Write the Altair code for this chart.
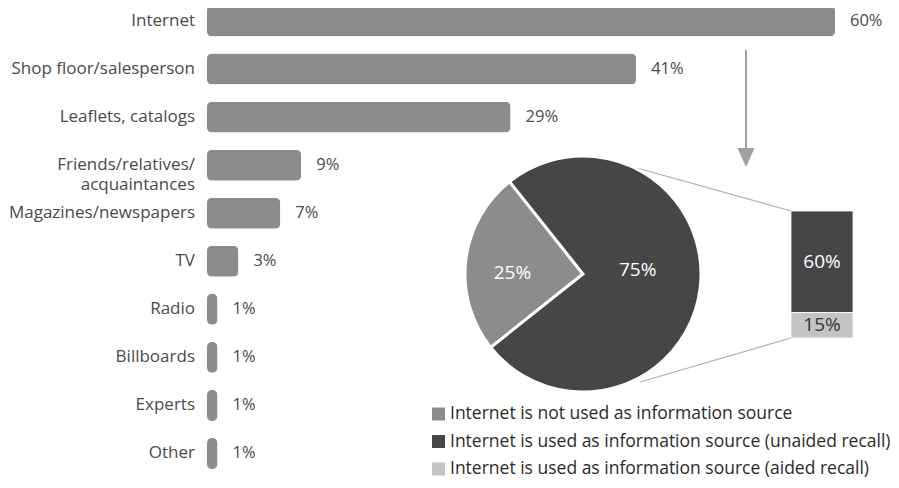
import math
import altair as alt
import pandas as pd

# ---- data ----
categories = ["Internet", "Shop floor/salesperson", "Leaflets, catalogs",
              "Friends/relatives/\nacquaintances", "Magazines/newspapers", "TV",
              "Radio", "Billboards", "Experts", "Other"]
shares = [60, 41, 29, 9, 7, 3, 1, 1, 1, 1]

pie_groups = ["Not used", "Used"]
pie_values = [25, 75]

split_groups = ["Internet is used as information source (unaided recall)",
                "Internet is used as information source (aided recall)"]
split_values = [60, 15]

legend_labels = ["Internet is not used as information source",
                 "Internet is used as information source (unaided recall)",
                 "Internet is used as information source (aided recall)"]
legend_colors = ["#8c8c8c", "#464646", "#c4c4c4"]

FONT = "Open Sans"
BAR_GRAY = "#8c8c8c"

bars_df = pd.DataFrame({"cat": categories, "val": shares,
                        "label": [f"{v}%" for v in shares]})
pie_df = pd.DataFrame({"grp": pie_groups, "val": pie_values})
split_df = pd.DataFrame({"grp": split_groups, "val": split_values})
leg_df = pd.DataFrame({"grp": legend_labels})

# ---- scales ----
ysc = alt.Scale(domain=categories, range=[-11, 469.5], paddingInner=0.355, paddingOuter=0.1775)
xsc = alt.Scale(domain=[0, 60], range=[199, 827])
start = math.radians(231.5)
theta_sc = alt.Scale(range=[start, start + 2 * math.pi])
ysplit = alt.Scale(domain=[0, 75], range=[330, 203])
yleg = alt.Scale(type="point", domain=legend_labels, range=[406, 461], padding=0)
color_leg = alt.Scale(domain=legend_labels, range=legend_colors)
color_pie = alt.Scale(domain=pie_groups, range=[legend_colors[0], legend_colors[1]])

base = alt.Chart(bars_df)
bars = base.mark_bar(color=BAR_GRAY, cornerRadius=5).encode(
    y=alt.Y("cat:N", scale=ysc, axis=None, sort=None),
    x=alt.X("val:Q", scale=xsc, axis=None),
)
cat_labels = base.mark_text(align="right", baseline="middle", font=FONT, fontSize=17,
                            color="#4a4a4a", lineBreak="\n", lineHeight=20).encode(
    y=alt.Y("cat:N", scale=ysc, axis=None, sort=None),
    x=alt.value(187),
    text="cat:N",
)
val_labels = base.mark_text(align="left", baseline="middle", dx=15, font=FONT, fontSize=16.5,
                            color="#4a4a4a").encode(
    y=alt.Y("cat:N", scale=ysc, axis=None, sort=None),
    x=alt.X("val:Q", scale=xsc, axis=None),
    text="label:N",
)

# ---- pie ----
pie = alt.Chart(pie_df).mark_arc(outerRadius=118, stroke="white", strokeWidth=3).encode(
    theta=alt.Theta("val:Q", stack=True, scale=theta_sc),
    color=alt.Color("grp:N", scale=color_pie, legend=None),
    order=alt.Order("grp:N", sort="ascending"),
    x=alt.value(575), y=alt.value(266),
)
pie_lab_a = alt.Chart(pie_df).transform_calculate(label="datum.val + '%'").mark_text(
    radius=71, dy=7, font=FONT, fontSize=19, color="white").encode(
    theta=alt.Theta("val:Q", stack=True, scale=theta_sc),
    detail="grp:N",
    order=alt.Order("grp:N", sort="ascending"),
    text="label:N",
    opacity=alt.condition(alt.datum.grp == "Not used", alt.value(1), alt.value(0)),
    x=alt.value(575), y=alt.value(266),
)
pie_lab_b = alt.Chart(pie_df).transform_calculate(label="datum.val + '%'").mark_text(
    radius=55, dy=-10, font=FONT, fontSize=19, color="white").encode(
    theta=alt.Theta("val:Q", stack=True, scale=theta_sc),
    detail="grp:N",
    order=alt.Order("grp:N", sort="ascending"),
    text="label:N",
    opacity=alt.condition(alt.datum.grp == "Used", alt.value(1), alt.value(0)),
    x=alt.value(575), y=alt.value(266),
)

# ---- split bar ----
split_base = alt.Chart(split_df).transform_stack(
    stack="val", groupby=[], as_=["v0", "v1"],
    sort=[alt.SortField("grp", order="ascending")])
split = split_base.mark_bar(stroke="white", strokeWidth=0.8).encode(
    y=alt.Y("v0:Q", scale=ysplit, axis=None), y2="v1:Q",
    x=alt.value(783), x2=alt.value(845),
    color=alt.Color("grp:N", scale=color_leg, legend=None),
)
split_lab = split_base.transform_calculate(
    mid="(datum.v0 + datum.v1) / 2", label="datum.val + '%'").mark_text(
    align="center", baseline="middle", font=FONT, fontSize=19).encode(
    y=alt.Y("mid:Q", scale=ysplit, axis=None),
    x=alt.value(814),
    text="label:N",
    color=alt.condition(alt.datum.val > 30, alt.value("white"), alt.value("#333333")),
)

# ---- connectors and arrow ----
one = alt.Data(values=[{}])
conn1 = alt.Chart(one).mark_rule(color="#b0b0b0", strokeWidth=1.2).encode(
    x=alt.value(629), y=alt.value(160), x2=alt.value(783), y2=alt.value(203))
conn2 = alt.Chart(one).mark_rule(color="#b0b0b0", strokeWidth=1.2).encode(
    x=alt.value(632), y=alt.value(374), x2=alt.value(783), y2=alt.value(330))
arrow_line = alt.Chart(one).mark_rule(color="#a0a0a0", strokeWidth=2).encode(
    x=alt.value(738), y=alt.value(42), y2=alt.value(144))
arrow_head = alt.Chart(one).mark_point(shape="M-0.9,-1L0.9,-1L0,1Z", filled=True, size=361,
                                       color="#a0a0a0", opacity=1).encode(
    x=alt.value(738), y=alt.value(149.5))

# ---- legend ----
leg_sq = alt.Chart(leg_df).mark_square(size=169, filled=True, opacity=1).encode(
    y=alt.Y("grp:N", scale=yleg, axis=None),
    x=alt.value(430.5),
    color=alt.Color("grp:N", scale=color_leg, legend=None),
)
leg_txt = alt.Chart(leg_df).mark_text(align="left", baseline="middle", font=FONT,
                                      fontSize=17.5, color="#2b2b2b").encode(
    y=alt.Y("grp:N", scale=yleg, axis=None),
    x=alt.value(442),
    text="grp:N",
)

chart = alt.layer(
    bars, cat_labels, val_labels,
    conn1, conn2, arrow_line, arrow_head,
    pie, pie_lab_a, pie_lab_b,
    split, split_lab,
    leg_sq, leg_txt,
).resolve_scale(
    x="independent", y="independent", color="independent", theta="independent"
).properties(
    width=883, height=472, padding=0, autosize=alt.AutoSizeParams(type="none")
).configure_view(stroke=None)

chart.save("out.html", embed_options={"renderer": "svg", "actions": False})
